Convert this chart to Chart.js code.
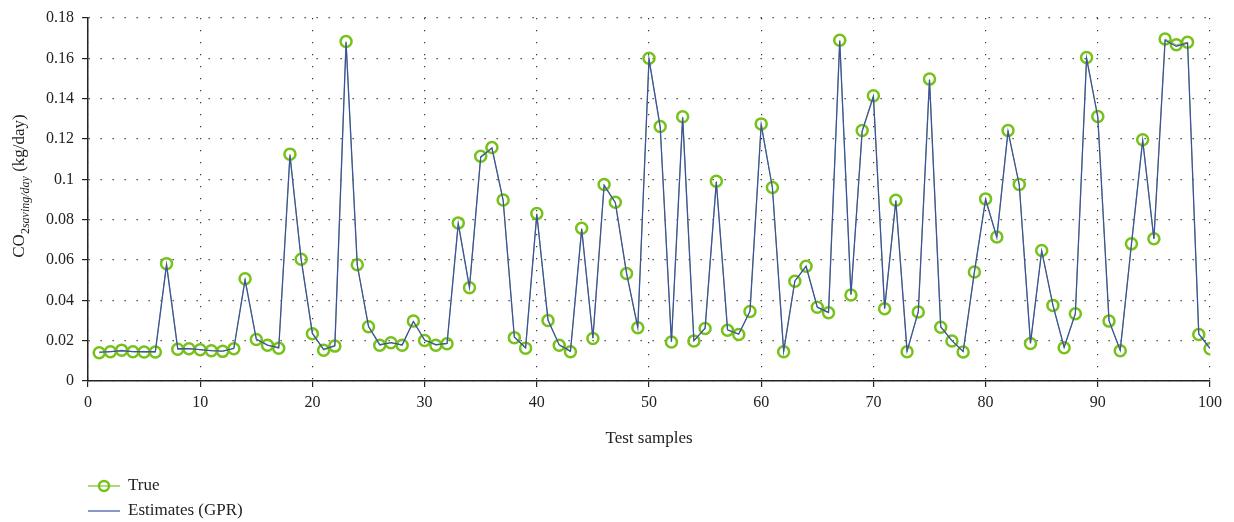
<!DOCTYPE html>
<html>
<head>
<meta charset="utf-8">
<script src="https://cdn.jsdelivr.net/npm/chart.js@4/dist/chart.umd.min.js"></script>
<style>
  html, body { margin: 0; padding: 0; background: #fff; }
  #wrap { width: 1234px; height: 522px; }
</style>
</head>
<body>
<div id="wrap"><canvas id="graph" width="1234" height="522"></canvas></div>
<script>
var samples = [1, 2, 3, 4, 5, 6, 7, 8, 9, 10, 11, 12, 13, 14, 15, 16, 17, 18, 19, 20,
  21, 22, 23, 24, 25, 26, 27, 28, 29, 30, 31, 32, 33, 34, 35, 36, 37, 38, 39, 40,
  41, 42, 43, 44, 45, 46, 47, 48, 49, 50, 51, 52, 53, 54, 55, 56, 57, 58, 59, 60,
  61, 62, 63, 64, 65, 66, 67, 68, 69, 70, 71, 72, 73, 74, 75, 76, 77, 78, 79, 80,
  81, 82, 83, 84, 85, 86, 87, 88, 89, 90, 91, 92, 93, 94, 95, 96, 97, 98, 99, 100];

var trueValues = [0.0140, 0.0145, 0.0153, 0.0145, 0.0144, 0.0144, 0.0582, 0.0157, 0.0160, 0.0155,
  0.0150, 0.0147, 0.0160, 0.0507, 0.0206, 0.0177, 0.0162, 0.1125, 0.0604, 0.0234,
  0.0153, 0.0173, 0.1683, 0.0576, 0.0269, 0.0177, 0.0190, 0.0177, 0.0297, 0.0201,
  0.0177, 0.0185, 0.0784, 0.0462, 0.1114, 0.1158, 0.0898, 0.0215, 0.0163, 0.0830,
  0.0300, 0.0177, 0.0145, 0.0757, 0.0211, 0.0974, 0.0886, 0.0533, 0.0264, 0.1600,
  0.1262, 0.0193, 0.1310, 0.0198, 0.0260, 0.0990, 0.0252, 0.0231, 0.0345, 0.1275,
  0.0960, 0.0145, 0.0495, 0.0569, 0.0366, 0.0338, 0.1690, 0.0426, 0.1242, 0.1414,
  0.0358, 0.0896, 0.0145, 0.0342, 0.1497, 0.0267, 0.0198, 0.0144, 0.0540, 0.0903,
  0.0714, 0.1242, 0.0975, 0.0186, 0.0647, 0.0375, 0.0165, 0.0333, 0.1604, 0.1312,
  0.0297, 0.0150, 0.0680, 0.1196, 0.0705, 0.1696, 0.1667, 0.1680, 0.0231, 0.0160];

var estimates = [0.0143, 0.0146, 0.0150, 0.0146, 0.0145, 0.0145, 0.0576, 0.0160, 0.0161, 0.0156,
  0.0151, 0.0148, 0.0162, 0.0500, 0.0208, 0.0178, 0.0165, 0.1118, 0.0602, 0.0236,
  0.0157, 0.0175, 0.1678, 0.0574, 0.0271, 0.0180, 0.0190, 0.0179, 0.0295, 0.0203,
  0.0180, 0.0186, 0.0780, 0.0464, 0.1110, 0.1155, 0.0896, 0.0218, 0.0165, 0.0826,
  0.0302, 0.0179, 0.0148, 0.0753, 0.0213, 0.0970, 0.0884, 0.0535, 0.0266, 0.1596,
  0.1258, 0.0195, 0.1306, 0.0200, 0.0262, 0.0986, 0.0254, 0.0233, 0.0346, 0.1271,
  0.0957, 0.0148, 0.0496, 0.0569, 0.0366, 0.0340, 0.1686, 0.0430, 0.1238, 0.1410,
  0.0360, 0.0893, 0.0148, 0.0344, 0.1492, 0.0269, 0.0200, 0.0147, 0.0540, 0.0900,
  0.0712, 0.1238, 0.0972, 0.0188, 0.0645, 0.0376, 0.0168, 0.0335, 0.1600, 0.1308,
  0.0299, 0.0153, 0.0678, 0.1193, 0.0705, 0.1690, 0.1660, 0.1676, 0.0233, 0.0162];

var xTicks = [0, 10, 20, 30, 40, 50, 60, 70, 80, 90, 100];
var yTicks = [0, 0.02, 0.04, 0.06, 0.08, 0.1, 0.12, 0.14, 0.16, 0.18];

var GREEN = '#76c11a';
var BLUE = '#3f51a6';
var FONT = '"Liberation Serif", "DejaVu Serif", serif';

function toPoints(values) {
  return values.map(function(v, i) {
    return { x: samples[i], y: v };
  });
}

// titles and legend drawn by hand: subscript label and stacked legend
var extras = {
  id: 'extras',
  afterDraw: function(chart) {
    var ctx = chart.ctx;
    var area = chart.chartArea;
    ctx.save();
    ctx.fillStyle = '#222';
    ctx.textBaseline = 'alphabetic';

    // x title
    ctx.font = '17px ' + FONT;
    ctx.textAlign = 'center';
    ctx.fillText('Test samples', (area.left + area.right) / 2, 443);

    // y title, rotated
    var parts = [
      { t: 'CO', f: '17px ' + FONT, dy: 0 },
      { t: '2', f: '12px ' + FONT, dy: 5 },
      { t: 'saving/day', f: 'italic 12px ' + FONT, dy: 5 },
      { t: ' (kg/day)', f: '17px ' + FONT, dy: 0 }
    ];
    var total = 0;
    parts.forEach(function(p) {
      ctx.font = p.f;
      p.w = ctx.measureText(p.t).width;
      total += p.w;
    });
    ctx.translate(24, 186);
    ctx.rotate(-Math.PI / 2);
    ctx.textAlign = 'left';
    var pos = -total / 2;
    parts.forEach(function(p) {
      ctx.font = p.f;
      ctx.fillText(p.t, pos, p.dy);
      pos += p.w;
    });
    ctx.setTransform(1, 0, 0, 1, 0, 0);

    // legend
    ctx.lineWidth = 1.2;
    ctx.strokeStyle = GREEN;
    ctx.beginPath();
    ctx.moveTo(88, 486);
    ctx.lineTo(120, 486);
    ctx.stroke();
    ctx.lineWidth = 2.5;
    ctx.beginPath();
    ctx.arc(104, 486, 5, 0, Math.PI * 2);
    ctx.stroke();

    ctx.lineWidth = 1.2;
    ctx.strokeStyle = BLUE;
    ctx.beginPath();
    ctx.moveTo(88, 511);
    ctx.lineTo(120, 511);
    ctx.stroke();

    ctx.font = '17px ' + FONT;
    ctx.textAlign = 'left';
    ctx.textBaseline = 'middle';
    ctx.fillStyle = '#222';
    ctx.fillText('True', 128, 486);
    ctx.fillText('Estimates (GPR)', 128, 511);
    ctx.restore();
  }
};

function axisStyle() {
  return {
    border: { display: true, color: '#222', width: 1.5, dash: [1.3, 10.7] },
    grid: {
      color: 'rgba(0,0,0,0.8)',
      lineWidth: 1.2,
      drawTicks: true,
      tickLength: 6,
      tickColor: '#222',
      tickWidth: 1.2,
      tickBorderDash: []
    }
  };
}

var xAxis = axisStyle();
var yAxis = axisStyle();

var context = document.querySelector('#graph').getContext('2d');
var chart = new Chart(context, {
  type: 'line',
  data: {
    datasets: [{
      label: 'True',
      data: toPoints(trueValues),
      borderColor: GREEN,
      borderWidth: 1,
      pointRadius: 5.5,
      pointBorderWidth: 2.5,
      pointBorderColor: GREEN,
      pointBackgroundColor: 'rgba(0,0,0,0)',
      tension: 0,
      order: 2
    }, {
      label: 'Estimates (GPR)',
      data: toPoints(estimates),
      borderColor: BLUE,
      borderWidth: 1.3,
      pointRadius: 0,
      tension: 0,
      order: 1
    }]
  },
  options: {
    responsive: false,
    animation: false,
    events: [],
    layout: {
      padding: { top: 18, right: 24, left: 0, bottom: 0 }
    },
    plugins: {
      legend: { display: false },
      title: { display: false },
      tooltip: { enabled: false }
    },
    scales: {
      x: {
        type: 'linear',
        min: 0,
        max: 100,
        afterBuildTicks: function(scale) {
          scale.ticks = xTicks.map(function(v) { return { value: v }; });
        },
        afterFit: function(scale) {
          scale.height = 141;
        },
        border: xAxis.border,
        grid: xAxis.grid,
        ticks: {
          color: '#222',
          padding: 6,
          maxRotation: 0,
          font: { family: FONT, size: 16 }
        }
      },
      y: {
        min: 0,
        max: 0.18,
        afterBuildTicks: function(scale) {
          scale.ticks = yTicks.map(function(v) { return { value: v }; });
        },
        afterFit: function(scale) {
          scale.width = 88;
        },
        border: yAxis.border,
        grid: yAxis.grid,
        ticks: {
          color: '#222',
          padding: 8,
          font: { family: FONT, size: 16 },
          callback: function(value) {
            return String(+value.toFixed(2));
          }
        }
      }
    }
  },
  plugins: [extras]
});
</script>
</body>
</html>
